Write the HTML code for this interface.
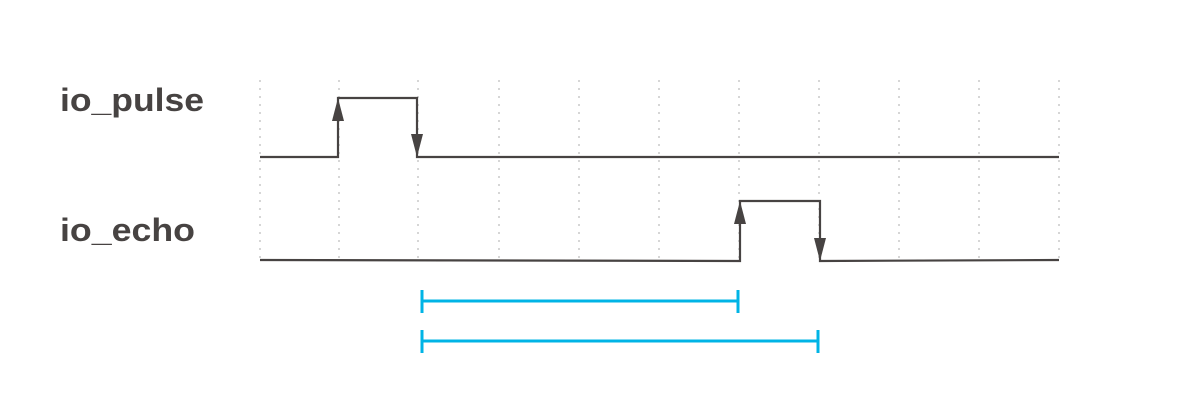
<!DOCTYPE html>
<html><head><meta charset="utf-8"><style>body{margin:0;background:#fff}</style></head><body>
<svg width="1200" height="400" xmlns="http://www.w3.org/2000/svg">
<rect width="1200" height="400" fill="#fff"/>
<g stroke="#c8c8c8" stroke-width="1.5" stroke-dasharray="2,6">
<line x1="260" y1="80" x2="260" y2="264"/><line x1="339" y1="80" x2="339" y2="264"/><line x1="418" y1="80" x2="418" y2="264"/><line x1="499" y1="80" x2="499" y2="264"/><line x1="579" y1="80" x2="579" y2="264"/><line x1="659" y1="80" x2="659" y2="264"/><line x1="739" y1="80" x2="739" y2="264"/><line x1="819" y1="80" x2="819" y2="264"/><line x1="899" y1="80" x2="899" y2="264"/><line x1="979" y1="80" x2="979" y2="264"/><line x1="1059" y1="80" x2="1059" y2="264"/>
</g>
<g font-family="Liberation Sans, sans-serif" font-weight="bold" font-size="32" fill="#474342">
<text x="60" y="111" textLength="144" lengthAdjust="spacingAndGlyphs">io_pulse</text>
<text x="60" y="241" textLength="135" lengthAdjust="spacingAndGlyphs">io_echo</text>
</g>
<g stroke="#474342" stroke-width="2.2" fill="none">
<polyline points="260,157 338,157 338,98 417,98 417,157 1059,157"/>
<polyline points="260,260 740,261 740,201 820,201 820,261 1059,260"/>
</g>
<g fill="#474342">
<polygon points="338,98 332,121 344,121"/>
<polygon points="417,157 411,134 423,134"/>
<polygon points="740,201 734,224 746,224"/>
<polygon points="820,261 814,238 826,238"/>
</g>
<g stroke="#00b4e6" stroke-width="3">
<line x1="422" y1="301" x2="738" y2="301"/><line x1="422" y1="290" x2="422" y2="313"/><line x1="738" y1="290" x2="738" y2="313"/>
<line x1="422" y1="341" x2="818" y2="341"/><line x1="422" y1="330" x2="422" y2="353"/><line x1="818" y1="330" x2="818" y2="353"/>
</g>
</svg>
</body></html>
